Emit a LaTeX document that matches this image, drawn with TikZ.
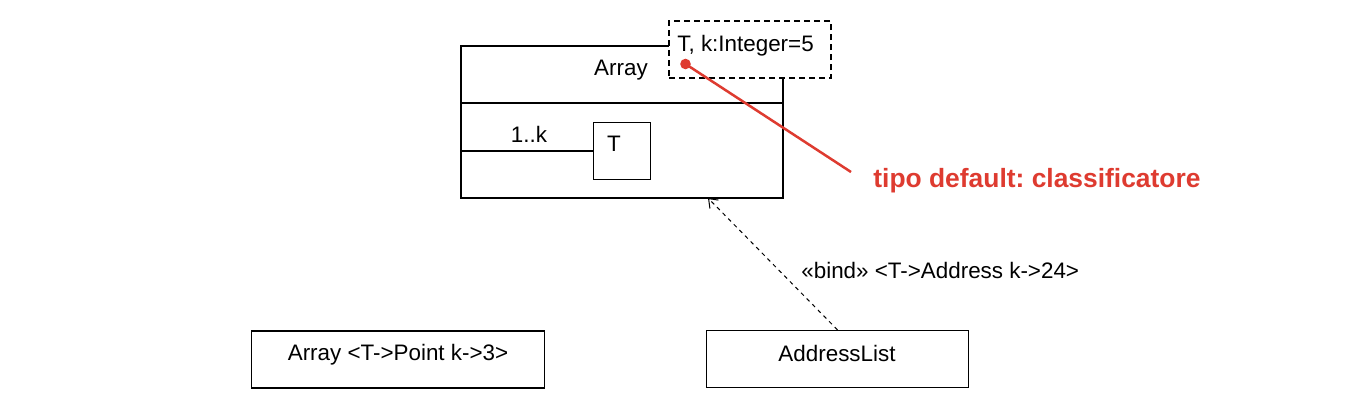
\documentclass[tikz,border=0pt]{standalone}
\usepackage{fontspec}
\setmainfont{Liberation Sans}
\usepackage{tikz}
\usetikzlibrary{arrows.meta}
\usetikzlibrary{positioning}
\definecolor{notered}{RGB}{222,59,48}
\frenchspacing

\begin{document}
\begin{tikzpicture}[x=0.5pt,y=-0.5pt,
    umlbox/.style={draw,line width=0.6pt,inner sep=0pt,fill=white},
    txt/.style={inner sep=0pt,font=\fontsize{11.2}{13}\selectfont},
    bind/.style={line width=0.5pt,dash pattern=on 2pt off 2pt,-{Straight Barb[length=4pt,width=6pt]}}]
  \useasboundingbox (0,0) rectangle (1364,402);
  \node[umlbox,minimum width=161pt,minimum height=76pt] (array) at (622,122) {};
  \coordinate (div) at (0,103);
  \draw[line width=0.6pt] (array.west |- div) -- (array.east |- div);
  \node[umlbox,minimum size=28.5pt] (tbox) at (622,151) {};
  \draw[line width=0.6pt] (array.west |- tbox) -- (tbox.west);
  \node[umlbox,dash pattern=on 3pt off 2pt,minimum width=81pt,minimum height=28.5pt] (params) at (750,49.5) {};
  \node[txt,anchor=base] (arrayname) at (621,75) {Array};
  \node[txt,anchor=base west] (paramtxt) at (677,51) {T, k:Integer=5};
  \node[txt,anchor=base] (mult) at (529,142) {1..k};
  \node[txt,anchor=base] (ttxt) at (614,151) {T};

  \node[umlbox,minimum width=146.5pt,minimum height=28.5pt] (pointarr) at (398,359.5) {};
  \node[txt,anchor=base] (pointtxt) at (398,360) {Array <T->Point k->3>};
  \node[umlbox,minimum width=131pt,minimum height=28.5pt] (addr) at (837.5,359) {};
  \node[txt,anchor=base] (addrtxt) at (837,361) {AddressList};

  \coordinate (bindend) at (708,198);
  \draw[bind] (addr.north) -- (bindend);
  \node[txt,anchor=base west] (bindtxt) at (801,278) {«bind» <T->Address k->24>};

  \coordinate (dot) at (685.5,64);
  \coordinate (noteend) at (851,172);
  \node[txt,anchor=base west,text=notered,font=\fontsize{13.2}{16}\selectfont\bfseries] (note) at (873,187) {tipo default: classificatore};
  \fill[notered] (dot) circle[radius=2.65pt];
  \draw[notered,line width=1.25pt] (dot) -- (noteend);
\end{tikzpicture}
\end{document}
